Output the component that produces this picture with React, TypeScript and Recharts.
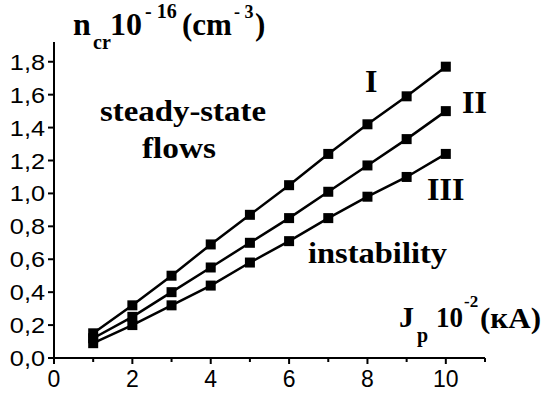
import React from 'react';
import { LineChart, Line, XAxis, YAxis, Customized } from 'recharts';

// J_p 10^-2 (kA)
const currents = [1, 2, 3, 4, 5, 6, 7, 8, 9, 10];
// n_cr 10^-16 (cm^-3)
const seriesI = [0.15, 0.32, 0.5, 0.69, 0.87, 1.05, 1.24, 1.42, 1.59, 1.77];
const seriesII = [0.12, 0.25, 0.4, 0.55, 0.7, 0.85, 1.01, 1.17, 1.33, 1.5];
const seriesIII = [0.09, 0.2, 0.32, 0.44, 0.58, 0.71, 0.85, 0.98, 1.1, 1.24];

const xTicks = [0, 1, 2, 3, 4, 5, 6, 7, 8, 9, 10, 11];
const yTicks = [0, 0.2, 0.4, 0.6, 0.8, 1.0, 1.2, 1.4, 1.6, 1.8];

const data = currents.map((j, i) => ({
  j,
  I: seriesI[i],
  II: seriesII[i],
  III: seriesIII[i],
}));

const SANS = '"Liberation Sans", Arial, sans-serif';
const SERIF = '"Liberation Serif", "Times New Roman", serif';

const Square = (props: any) => {
  const { cx, cy } = props;
  if (cx == null || cy == null) return null;
  return <rect x={cx - 5} y={cy - 5} width={10} height={10} fill="#000" />;
};

const XTick = (props: any) => {
  const { x, y, payload } = props;
  const v = payload.value;
  const major = v % 2 === 0 && v <= 10;
  return (
    <g>
      <line x1={x} y1={y} x2={x} y2={y + (major ? 6 : 4)} stroke="#000" strokeWidth={2} />
      {major && (
        <text x={x} y={y + 29} textAnchor="middle" fontFamily={SANS} fontSize={23} fill="#000">
          {v}
        </text>
      )}
    </g>
  );
};

const YTick = (props: any) => {
  const { x, y, payload } = props;
  const label = payload.value.toFixed(1).replace('.', ',');
  return (
    <g>
      <line x1={x - 6} y1={y} x2={x} y2={y} stroke="#000" strokeWidth={2} />
      <text
        transform={`translate(${x - 9},${y + 8}) scale(1.15,1)`}
        textAnchor="end"
        fontFamily={SANS}
        fontSize={22}
        fill="#000"
      >
        {label}
      </text>
    </g>
  );
};

const B = ({ x, y, size, len, children }: any) => (
  <text
    x={x}
    y={y}
    fontFamily={SERIF}
    fontWeight="bold"
    fontSize={size}
    fill="#000"
    textLength={len}
    lengthAdjust={len ? 'spacingAndGlyphs' : undefined}
  >
    {children}
  </text>
);

const Notes = () => (
  <g>
    <B x={73} y={35} size={32}>n</B>
    <B x={93} y={49} size={20}>cr</B>
    <B x={110} y={35} size={32}>10</B>
    <B x={145} y={18} size={20}>- 16</B>
    <B x={182} y={35} size={31}>(cm</B>
    <B x={234} y={18} size={18}>- 3</B>
    <B x={255} y={35} size={31}>)</B>

    <B x={100} y={121} size={30} len={166}>steady-state</B>
    <B x={142} y={158} size={30} len={74}>flows</B>
    <B x={308} y={263} size={30} len={139}>instability</B>

    <B x={365} y={92} size={32}>I</B>
    <B x={462} y={113} size={32}>II</B>
    <B x={427} y={200} size={32}>III</B>

    <B x={399} y={327} size={30}>J</B>
    <B x={417} y={342} size={20}>p</B>
    <B x={436} y={327} size={30} len={27}>10</B>
    <B x={464} y={307} size={17}>-2</B>
    <B x={480} y={328} size={30} len={61}>(кА)</B>
  </g>
);

export default function App() {
  return (
    <div style={{ position: 'absolute', left: 0, top: 0, width: 543, height: 396, background: '#fff' }}>
      <LineChart width={543} height={396} data={data} margin={{ top: 42, right: 58, left: 0, bottom: 0 }}>
        <XAxis
          dataKey="j"
          type="number"
          domain={[0, 11]}
          ticks={xTicks}
          interval={0}
          height={38}
          tickSize={0}
          tickMargin={0}
          tickLine={false}
          axisLine={{ stroke: '#000', strokeWidth: 2 }}
          tick={<XTick />}
        />
        <YAxis
          type="number"
          domain={[0, 1.92]}
          ticks={yTicks}
          interval={0}
          width={54}
          tickSize={0}
          tickMargin={0}
          tickLine={false}
          axisLine={{ stroke: '#000', strokeWidth: 2 }}
          tick={<YTick />}
        />
        <Line dataKey="I" stroke="#000" strokeWidth={2.5} dot={<Square />} isAnimationActive={false} />
        <Line dataKey="II" stroke="#000" strokeWidth={2.5} dot={<Square />} isAnimationActive={false} />
        <Line dataKey="III" stroke="#000" strokeWidth={2.5} dot={<Square />} isAnimationActive={false} />
        <Customized component={<Notes />} />
      </LineChart>
    </div>
  );
}
